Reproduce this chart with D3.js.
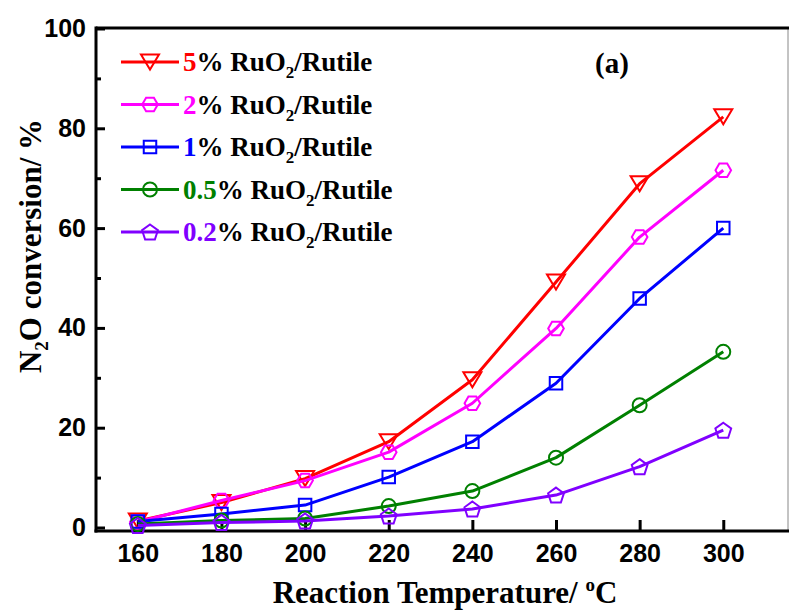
<!DOCTYPE html>
<html>
<head>
<meta charset="utf-8">
<script src="https://cdn.jsdelivr.net/npm/d3@7"></script>
<style>
  html, body { margin: 0; padding: 0; background: #fff; }
  svg { display: block; }
</style>
</head>
<body>
<svg id="chart" width="789" height="610"></svg>
<script>
// ---- data ----
const temperatures = [160, 180, 200, 220, 240, 260, 280, 300];
const seriesNames = ["5", "2", "1", "0.5", "0.2"];
const seriesColors = ["#ff0000", "#ff00ff", "#0000ff", "#008000", "#8000ff"];
const seriesMarkers = ["triangleDown", "hexagon", "square", "circle", "pentagon"];
const values5 = [1.3, 5.0, 9.8, 17.2, 29.6, 49.2, 68.9, 82.3];
const values2 = [1.1, 5.4, 9.4, 15.1, 24.9, 39.9, 58.2, 71.6];
const values1 = [1.2, 2.7, 4.5, 10.1, 17.2, 28.9, 45.9, 60.0];
const values05 = [0.7, 1.4, 1.8, 4.3, 7.3, 14.0, 24.5, 35.2];
const values02 = [0.4, 1.0, 1.3, 2.3, 3.7, 6.5, 12.2, 19.5];
const yTicks = [0, 20, 40, 60, 80, 100];
const yMinorTicks = [10, 30, 50, 70, 90];
const xTicks = [160, 180, 200, 220, 240, 260, 280, 300];

const allValues = [values5, values2, values1, values05, values02];

// ---- layout ----
const svg = d3.select("#chart");
const pLeft = 96, pRight = 786, pTop = 28, pBottom = 531;
const x = d3.scaleLinear().domain([150, 315]).range([pLeft, pRight]);
const y = d3.scaleLinear().domain([-0.7, 100]).range([pBottom, pTop + 0.5]);

// frame
svg.append("line").attr("x1", 788).attr("x2", 788).attr("y1", pTop).attr("y2", pBottom)
  .attr("stroke", "#888").attr("stroke-width", 1);
svg.append("line").attr("x1", pLeft).attr("x2", 789).attr("y1", pTop).attr("y2", pTop)
  .attr("stroke", "#000").attr("stroke-width", 3);

// axes
const sans = "'Liberation Sans', Arial, sans-serif";
const xAxis = d3.axisBottom(x).tickValues(xTicks).tickSize(-11).tickPadding(14).tickFormat(d3.format("d"));
const gx = svg.append("g").attr("transform", `translate(0,${pBottom})`).call(xAxis);
gx.select(".domain").remove();
gx.append("line").attr("x1", pLeft - 1.5).attr("x2", 789).attr("y1", 0).attr("y2", 0)
  .attr("stroke", "#000").attr("stroke-width", 3);
gx.selectAll(".tick line").attr("stroke", "#000").attr("stroke-width", 3);
gx.selectAll(".tick text").attr("fill", "#000")
  .style("font-family", sans).style("font-weight", "bold").style("font-size", "25px")
  .attr("dy", "0.71em").attr("y", 13);

const yAxis = d3.axisLeft(y).tickValues(yTicks).tickSize(-9).tickPadding(13).tickFormat(d3.format("d"));
const gy = svg.append("g").attr("transform", `translate(${pLeft},0)`).call(yAxis);
gy.select(".domain").remove();
gy.append("line").attr("x1", 0).attr("x2", 0).attr("y1", pTop - 1.5).attr("y2", pBottom + 1.5)
  .attr("stroke", "#000").attr("stroke-width", 3);
gy.selectAll(".tick line").attr("stroke", "#000").attr("stroke-width", 3);
gy.selectAll(".tick text").attr("fill", "#000")
  .style("font-family", sans).style("font-weight", "bold").style("font-size", "25px")
  .attr("x", -10);

const yMinor = d3.axisLeft(y).tickValues(yMinorTicks).tickSize(-5).tickFormat("");
const gym = svg.append("g").attr("transform", `translate(${pLeft},0)`).call(yMinor);
gym.select(".domain").remove();
gym.selectAll(".tick line").attr("stroke", "#000").attr("stroke-width", 3);

// axis titles
const serif = "'Liberation Serif', 'Times New Roman', serif";
const xt = svg.append("text").attr("x", 445).attr("y", 603).attr("text-anchor", "middle")
  .style("font-family", serif).style("font-weight", "bold").style("font-size", "31px").attr("fill", "#000");
xt.append("tspan").text("Reaction Temperature/ ");
xt.append("tspan").text("o").style("font-size", "19px").attr("dy", -12);
xt.append("tspan").text("C").attr("dy", 12);

const yt = svg.append("text").attr("transform", `translate(41,246) rotate(-90)`).attr("text-anchor", "middle")
  .style("font-family", serif).style("font-weight", "bold").style("font-size", "31px").attr("fill", "#000");
yt.append("tspan").text("N");
yt.append("tspan").text("2").style("font-size", "19px").attr("dy", 7);
yt.append("tspan").text("O conversion/ %").attr("dy", -7);

// markers
function markerPath(type) {
  if (type === "circle") return d3.symbol(d3.symbolCircle, Math.PI * 7 * 7)();
  if (type === "square") return d3.symbol(d3.symbolSquare, 12.5 * 12.5)();
  if (type === "triangleDown") {
    const w = 9, h = 7.5;
    return `M${-w},${-h}L${w},${-h}L0,${h}Z`;
  }
  if (type === "hexagon") {
    const r = 7.8;
    const pts = d3.range(6).map(i => {
      const a = i * Math.PI / 3;
      return [r * Math.cos(a), r * Math.sin(a)];
    });
    return "M" + pts.map(p => p.join(",")).join("L") + "Z";
  }
  if (type === "pentagon") {
    const r = 8.3;
    const pts = d3.range(5).map(i => {
      const a = -Math.PI / 2 + i * 2 * Math.PI / 5;
      return [r * Math.cos(a), r * Math.sin(a) + 0.8];
    });
    return "M" + pts.map(p => p.join(",")).join("L") + "Z";
  }
}

const line = d3.line().x(d => x(d[0])).y(d => y(d[1]));

allValues.forEach((vals, i) => {
  const data = temperatures.map((t, j) => [t, vals[j]]);
  const g = svg.append("g");
  g.append("path").datum(data).attr("d", line).attr("fill", "none")
    .attr("stroke", seriesColors[i]).attr("stroke-width", 3).attr("stroke-linejoin", "round");
  g.selectAll("path.m").data(data).enter().append("path").attr("class", "m")
    .attr("d", markerPath(seriesMarkers[i]))
    .attr("transform", d => `translate(${x(d[0])},${y(d[1])})`)
    .attr("fill", "none").attr("stroke", seriesColors[i]).attr("stroke-width", 2);
});

// legend
const legendY = [62, 104.5, 147, 189.5, 232];
seriesNames.forEach((name, i) => {
  const ly = legendY[i];
  svg.append("line").attr("x1", 121).attr("x2", 179).attr("y1", ly).attr("y2", ly)
    .attr("stroke", seriesColors[i]).attr("stroke-width", 3);
  svg.append("path").attr("d", markerPath(seriesMarkers[i]))
    .attr("transform", `translate(150,${ly})`)
    .attr("fill", "none").attr("stroke", seriesColors[i]).attr("stroke-width", 2);
  const t = svg.append("text").attr("x", 183).attr("y", ly + 9)
    .style("font-family", serif).style("font-weight", "bold").style("font-size", "27px").attr("fill", "#000");
  t.append("tspan").text(name).attr("fill", seriesColors[i]);
  t.append("tspan").text("% RuO");
  t.append("tspan").text("2").style("font-size", "17px").attr("dy", 7);
  t.append("tspan").text("/Rutile").attr("dy", -7);
});

svg.append("text").attr("x", 612).attr("y", 73).attr("text-anchor", "middle")
  .style("font-family", serif).style("font-weight", "bold").style("font-size", "29px").attr("fill", "#000")
  .text("(a)");
</script>
</body>
</html>
